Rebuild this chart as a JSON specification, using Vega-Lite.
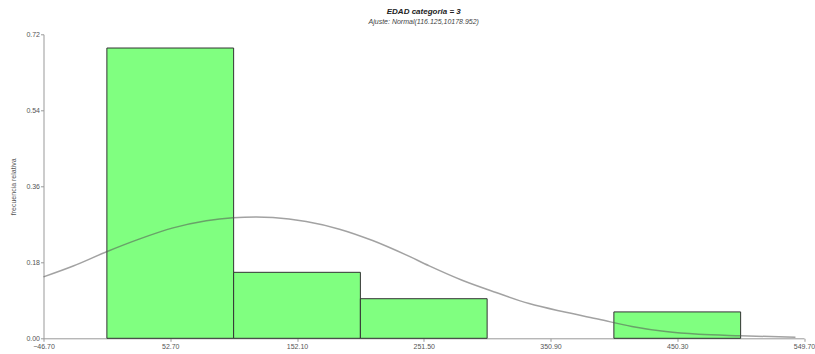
{
  "$schema": "https://vega.github.io/schema/vega-lite/v6.json",
  "width": 760.5,
  "height": 304,
  "autosize": {"type": "none"},
  "padding": {"left": 43.5, "top": 34.3, "right": 11, "bottom": 15.7},
  "background": "white",
  "title": {
    "text": "EDAD categoria = 3",
    "subtitle": "Ajuste: Normal(116.125,10178.952)",
    "anchor": "middle",
    "font": "Liberation Sans",
    "fontSize": 8,
    "fontStyle": "italic",
    "fontWeight": "bold",
    "color": "#222222",
    "subtitleFont": "Liberation Sans",
    "subtitleFontSize": 7,
    "subtitleFontStyle": "italic",
    "subtitleColor": "#444444",
    "subtitlePadding": 2,
    "offset": 5
  },
  "datasets": {
    "bars": [
      {"lo": 3.0, "hi": 102.4, "freq": 0.6875},
      {"lo": 102.4, "hi": 201.8, "freq": 0.15625},
      {"lo": 201.8, "hi": 301.2, "freq": 0.09375},
      {"lo": 400.6, "hi": 500.0, "freq": 0.0625}
    ],
    "curve": [
      {"x": -46.7, "y": 0.1455},
      {"x": -23.4, "y": 0.1712},
      {"x": 2.8, "y": 0.2051},
      {"x": 28.8, "y": 0.2355},
      {"x": 54.9, "y": 0.2615},
      {"x": 81.0, "y": 0.2785},
      {"x": 101.8, "y": 0.2856},
      {"x": 120.2, "y": 0.2875},
      {"x": 133.2, "y": 0.2862},
      {"x": 159.3, "y": 0.2765},
      {"x": 185.4, "y": 0.2585},
      {"x": 211.4, "y": 0.2315},
      {"x": 237.6, "y": 0.1975},
      {"x": 255.8, "y": 0.1715},
      {"x": 281.6, "y": 0.1375},
      {"x": 308.2, "y": 0.1085},
      {"x": 334.1, "y": 0.0822},
      {"x": 363.0, "y": 0.0616},
      {"x": 388.9, "y": 0.0450},
      {"x": 414.7, "y": 0.0282},
      {"x": 441.3, "y": 0.0160},
      {"x": 467.1, "y": 0.0095},
      {"x": 500.0, "y": 0.0060},
      {"x": 543.0, "y": 0.0024}
    ]
  },
  "layer": [
    {
      "data": {"name": "bars"},
      "mark": {"type": "rect", "fill": "#80FF80", "stroke": "#333333", "strokeWidth": 1},
      "encoding": {
        "x": {
          "field": "lo", "type": "quantitative",
          "scale": {"domain": [-46.7, 549.7], "nice": false, "zero": false},
          "axis": {
            "title": null,
            "values": [-46.7, 52.7, 152.1, 251.5, 350.9, 450.3, 549.7],
            "format": ".2f",
            "grid": false,
            "domainColor": "#999999",
            "tickColor": "#999999",
            "tickSize": 3,
            "labelFont": "Liberation Sans",
            "labelFontSize": 7,
            "labelColor": "#555555",
            "labelPadding": 1,
            "labelFlush": false
          }
        },
        "x2": {"field": "hi"},
        "y": {
          "field": "freq", "type": "quantitative",
          "scale": {"domain": [0, 0.72], "nice": false},
          "axis": {
            "title": "frecuencia relativa",
            "values": [0, 0.18, 0.36, 0.54, 0.72],
            "format": ".2f",
            "grid": false,
            "domainColor": "#999999",
            "tickColor": "#999999",
            "tickSize": 3,
            "labelFont": "Liberation Sans",
            "labelFontSize": 7,
            "labelColor": "#555555",
            "labelPadding": 1,
            "labelFlush": false,
            "titleFont": "Liberation Sans",
            "titleFontSize": 7,
            "titleFontWeight": "normal",
            "titleColor": "#555555",
            "titleX": -30.5,
            "titleY": 152,
            "titleAlign": "center",
            "titleBaseline": "middle",
            "titleAngle": -90
          }
        },
        "y2": {"datum": 0}
      }
    },
    {
      "data": {"name": "curve"},
      "mark": {"type": "line", "stroke": "#555555", "strokeOpacity": 0.55, "strokeWidth": 1.5, "interpolate": "monotone"},
      "encoding": {
        "x": {"field": "x", "type": "quantitative"},
        "y": {"field": "y", "type": "quantitative"}
      }
    }
  ],
  "config": {"view": {"stroke": null}}
}
